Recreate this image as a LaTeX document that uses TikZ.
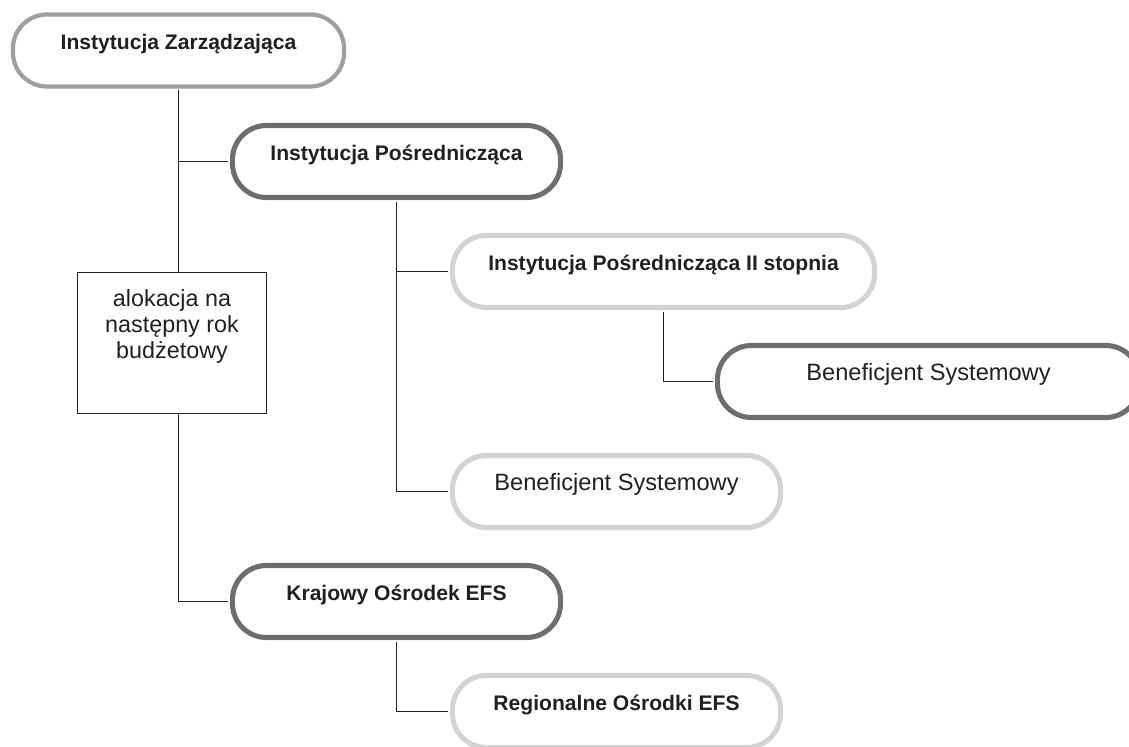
\documentclass[tikz,border=0pt]{standalone}
\usepackage{fontspec}
\setmainfont{Liberation Sans}
\usetikzlibrary{positioning}
\definecolor{inkblack}{HTML}{231F20}
\definecolor{boxmid}{HTML}{9D9FA2}
\definecolor{boxdark}{HTML}{6D6E71}
\definecolor{boxlight}{HTML}{D1D3D4}

\begin{document}
\begin{tikzpicture}[x=0.025cm,y=-0.025cm,
  every node/.style={text=inkblack},
  orgbox/.style={rounded corners=0.85cm,minimum width=8.2cm,minimum height=1.8cm,
    fill=white,line width=3.6pt,inner sep=0pt,text height=10pt,text depth=12pt},
  bigbox/.style={orgbox,minimum width=10.55cm},
  boldtxt/.style={font=\fontsize{15}{18}\selectfont\bfseries},
  regtxt/.style={font=\fontsize{16.8}{20}\selectfont},
  link/.style={draw=inkblack,line width=1.2pt,shorten >=1.2pt}]
\useasboundingbox (0,0) rectangle (1129,747);
% top level
\node[orgbox,boldtxt,draw=boxmid,line width=3pt,minimum width=8.275cm] (iz) at (178.5,50.5) {Instytucja Zarządzająca};
\node[draw=inkblack,line width=1.1pt,minimum width=4.725cm,minimum height=3.525cm,inner sep=0pt] (alloc) at (172,343) {};
\node[anchor=north,align=center,inner sep=0pt,font=\fontsize{16.6}{18.6}\selectfont] (alloctxt) at (172,289) {alokacja na\\następny rok\\budżetowy};
% intermediate branch
\node[orgbox,boldtxt,draw=boxdark] (ip) at (396.5,161.5) {Instytucja Pośrednicząca};
\node[bigbox,boldtxt,draw=boxlight] (ipii) at (663.5,271.5) {Instytucja Pośrednicząca II stopnia};
\node[bigbox,regtxt,draw=boxdark] (bsd) at (928.5,381.5) {Beneficjent Systemowy};
\node[orgbox,regtxt,draw=boxlight] (bsl) at (616.5,491.5) {Beneficjent Systemowy};
% EFS branch
\node[orgbox,boldtxt,draw=boxdark] (ko) at (396.5,601.5) {Krajowy Ośrodek EFS};
\node[orgbox,boldtxt,draw=boxlight] (ro) at (616.5,711.5) {Regionalne Ośrodki EFS};
% connectors
\draw[link,shorten <=1pt,shorten >=0pt] (iz.south) -- (iz.south |- alloc.north);
\draw[link] (iz.south |- alloc.south) |- (ko.west);
\draw[link] (iz.south |- ip.west) -- (ip.west);
\draw[link,shorten <=1.2pt] (ip.south) |- (bsl.west);
\draw[link] (ip.south |- ipii.west) -- (ipii.west);
\draw[link,shorten <=1.2pt] (ipii.south) |- (bsd.west);
\draw[link,shorten <=1.2pt] (ko.south) |- (ro.west);
\end{tikzpicture}
\end{document}
